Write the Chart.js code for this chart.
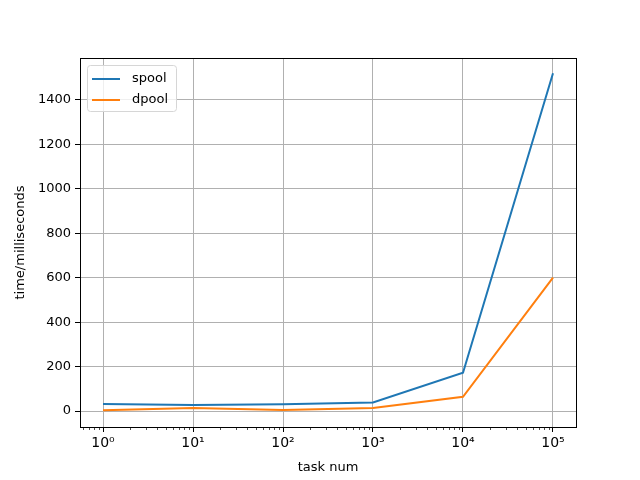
<!DOCTYPE html>
<html>
<head>
<meta charset="utf-8">
<script src="https://cdn.jsdelivr.net/npm/chart.js@4/dist/chart.umd.min.js"></script>
<style>
html,body{margin:0;padding:0;background:#fff;}
#wrap{width:640px;height:480px;}
</style>
</head>
<body>
<div id="wrap"><canvas id="c" width="640" height="480"></canvas></div>
<script>
const taskNums = [1, 10, 100, 1000, 10000, 100000];
const spool = [31, 27, 30, 38, 172, 1520];
const dpool = [3, 14, 5, 14, 64, 600];
const xTickValues = [1, 10, 100, 1000, 10000, 100000];
const xTickLabels = ['10\u2070', '10\u00b9', '10\u00b2', '10\u00b3', '10\u2074', '10\u2075'];
const yTickValues = [0, 200, 400, 600, 800, 1000, 1200, 1400];

const FONT = "'DejaVu Sans', sans-serif";

const boxPlugin = {
  id: 'boxAndMinor',
  afterDraw(chart) {
    const ctx = chart.ctx, a = chart.chartArea, xs = chart.scales.x;
    ctx.save();
    ctx.strokeStyle = '#000';
    ctx.lineWidth = 0.7;
    for (let e = -1; e <= 5; e++) {
      for (let k = 2; k <= 9; k++) {
        const v = k * Math.pow(10, e);
        if (v < xs.min || v > xs.max) continue;
        const px = Math.round(xs.getPixelForValue(v)) + 0.5;
        ctx.beginPath();
        ctx.moveTo(px, a.bottom);
        ctx.lineTo(px, a.bottom + 3);
        ctx.stroke();
      }
    }
    ctx.lineWidth = 1;
    ctx.strokeStyle = '#000';
    ctx.strokeRect(Math.round(a.left) + 0.5, Math.round(a.top) + 0.5, Math.round(a.right - a.left), Math.round(a.bottom - a.top));
    const lx = a.left + 7, ly = a.top + 7, lw = 89, lh = 46;
    ctx.fillStyle = 'rgba(255,255,255,0.8)';
    ctx.strokeStyle = '#d6d6d6';
    ctx.beginPath();
    if (ctx.roundRect) ctx.roundRect(lx + 0.5, ly + 0.5, lw, lh, 3); else ctx.rect(lx + 0.5, ly + 0.5, lw, lh);
    ctx.fill();
    ctx.stroke();
    ctx.font = '13px ' + FONT;
    ctx.textBaseline = 'middle';
    chart.data.datasets.forEach((ds, i) => {
      const yy = ly + 14 + i * 21;
      ctx.strokeStyle = ds.borderColor;
      ctx.lineWidth = 2;
      ctx.beginPath();
      ctx.moveTo(lx + 5, yy);
      ctx.lineTo(lx + 33, yy);
      ctx.stroke();
      ctx.fillStyle = '#000';
      ctx.fillText(ds.label, lx + 45, yy);
    });
    ctx.restore();
  }
};

new Chart(document.getElementById('c'), {
  type: 'line',
  data: {
    datasets: [
      { label: 'spool', data: taskNums.map((x, i) => ({x, y: spool[i]})), borderColor: '#1f77b4', backgroundColor: '#1f77b4', borderWidth: 2, pointRadius: 0, tension: 0 },
      { label: 'dpool', data: taskNums.map((x, i) => ({x, y: dpool[i]})), borderColor: '#ff7f0e', backgroundColor: '#ff7f0e', borderWidth: 2, pointRadius: 0, tension: 0 }
    ]
  },
  options: {
    responsive: false,
    animation: false,
    layout: { padding: { left: 0, top: 58, right: 64, bottom: 0 } },
    plugins: { legend: { display: false }, tooltip: { enabled: false } },
    scales: {
      x: {
        type: 'logarithmic',
        min: Math.pow(10, -0.2556),
        max: Math.pow(10, 5.2556),
        afterBuildTicks(s) { s.ticks = xTickValues.map(v => ({ value: v, major: true })); },
        afterFit(s) { s.height = 53; },
        ticks: {
          autoSkip: false, maxRotation: 0, padding: 3,
          color: '#000', font: { family: FONT, size: 14 },
          callback: (v) => { const i = xTickValues.indexOf(v); return i >= 0 ? xTickLabels[i] : ''; }
        },
        grid: { color: '#b0b0b0', lineWidth: 1, tickColor: '#000', tickLength: 5, drawTicks: true },
        border: { display: false },
        title: { display: true, text: 'task num', color: '#000', font: { family: FONT, size: 13 }, padding: { top: 2, bottom: 5 } }
      },
      y: {
        type: 'linear',
        min: -72,
        max: 1589,
        afterBuildTicks(s) { s.ticks = yTickValues.map(v => ({ value: v })); },
        afterFit(s) { s.width = 80; },
        ticks: { padding: 4, color: '#000', font: { family: FONT, size: 13 }, callback: (v) => String(v) },
        grid: { color: '#b0b0b0', lineWidth: 1, tickColor: '#000', tickLength: 5, drawTicks: true },
        border: { display: false },
        title: { display: true, text: 'time/milliseconds', color: '#000', font: { family: FONT, size: 13 }, padding: { top: 13, bottom: 0 } }
      }
    }
  },
  plugins: [boxPlugin]
});
</script>
</body>
</html>
